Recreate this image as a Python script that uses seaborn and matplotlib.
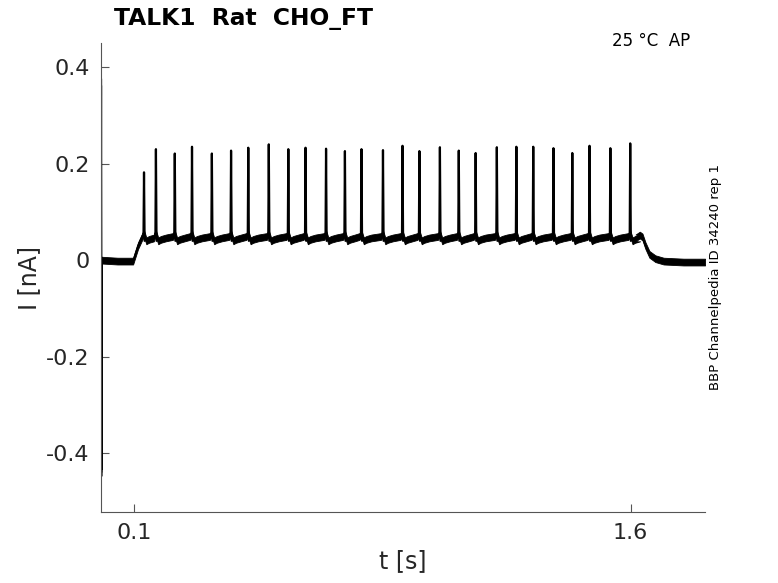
import matplotlib
matplotlib.use("Agg")
import matplotlib.pyplot as plt
import seaborn as sns
import pandas as pd

# values
spike_t = [0.130, 0.166, 0.223, 0.275, 0.335, 0.393, 0.445, 0.507, 0.566,
           0.618, 0.680, 0.737, 0.787, 0.852, 0.911, 0.962, 1.024, 1.081,
           1.132, 1.196, 1.255, 1.306, 1.367, 1.424, 1.476, 1.539, 1.599]
spike_peak = [0.182, 0.230, 0.221, 0.235, 0.221, 0.227, 0.233, 0.240, 0.230,
              0.233, 0.231, 0.226, 0.230, 0.228, 0.237, 0.226, 0.234, 0.227,
              0.222, 0.234, 0.235, 0.235, 0.232, 0.222, 0.237, 0.232, 0.242]

# slow component outside the spikes (time, current)
onset_t = [0.0, 0.0005, 0.0012, 0.002, 0.050, 0.097, 0.112, 0.124]
onset_i = [0.0, 0.37, -0.44, 0.0, -0.002, -0.002, 0.030, 0.048]
offset_t = [1.615, 1.628, 1.636, 1.645, 1.657, 1.675, 1.700, 1.760, 1.825]
offset_i = [0.046, 0.052, 0.048, 0.030, 0.012, 0.003, -0.002, -0.004, -0.004]

# plateau shape around each spike: before, at, after-dip, recovering, recovered
plateau_pre, plateau_top, plateau_ahp, plateau_mid, plateau_rest = 0.049, 0.055, 0.040, 0.043, 0.046

yticks = [-0.4, -0.2, 0, 0.2, 0.4]
ytick_labels = ["-0.4", "-0.2", "0", "0.2", "0.4"]
xticks = [0.1, 1.6]
xtick_labels = ["0.1", "1.6"]

# build slow trace
slow_t = list(onset_t)
slow_i = list(onset_i)
for ts in spike_t:
    slow_t += [ts - 0.006, ts, ts + 0.007, ts + 0.015, ts + 0.030]
    slow_i += [plateau_pre, plateau_top, plateau_ahp, plateau_mid, plateau_rest]
slow_t += offset_t
slow_i += offset_i
slow = pd.DataFrame({"t": slow_t, "I": slow_i})

# spikes as separate short segments
rows = []
for k, (ts, pk) in enumerate(zip(spike_t, spike_peak)):
    rows += [(k, ts - 0.0015, plateau_top), (k, ts, pk), (k, ts + 0.0018, plateau_ahp)]
spikes = pd.DataFrame(rows, columns=["spike", "t", "I"])

sns.set_theme(style="white")
plt.rcParams["font.family"] = ["DejaVu Sans"]
plt.rcParams["xtick.direction"] = "in"
plt.rcParams["ytick.direction"] = "in"

fig = plt.figure(figsize=(7.78, 5.83), dpi=100)
ax = fig.add_axes([0.1298, 0.1218, 0.7764, 0.8044])

# noise band
band = 0.007
ax.fill_between(slow["t"], slow["I"] - band, slow["I"] + band,
                color="black", linewidth=0.6)
sns.lineplot(data=slow, x="t", y="I", color="black", linewidth=1.2,
             ax=ax, estimator=None, sort=False)
sns.lineplot(data=spikes, x="t", y="I", units="spike", estimator=None,
             color="black", linewidth=1.6, ax=ax, sort=False)

ax.set_xlim(0, 1.825)
ax.set_ylim(-0.522, 0.45)
ax.set_xticks(xticks)
ax.set_xticklabels(xtick_labels)
ax.set_yticks(yticks)
ax.set_yticklabels(ytick_labels)
ax.tick_params(axis="both", bottom=True, left=True, labelsize=16, length=6,
               width=0.8, colors="#555555", labelcolor="#262626", pad=8)
for side in ["top", "right"]:
    ax.spines[side].set_visible(False)
for side in ["left", "bottom"]:
    ax.spines[side].set_color("#555555")
    ax.spines[side].set_linewidth(0.8)

ax.set_xlabel("t [s]", fontsize=17, color="#262626", labelpad=4)
ax.set_ylabel("I [nA]", fontsize=17, color="#262626", labelpad=4)

fig.text(0.146, 0.968, "TALK1  Rat  CHO_FT", fontsize=16.8, fontweight="bold",
         ha="left", va="center", color="black")
fig.text(0.887, 0.930, "25 °C  AP", fontsize=12, ha="right", va="center",
         color="black")
fig.text(0.920, 0.525, "BBP Channelpedia ID 34240 rep 1", fontsize=9.5,
         rotation=90, ha="center", va="center", color="black")

fig.savefig("out.png", dpi=100)
